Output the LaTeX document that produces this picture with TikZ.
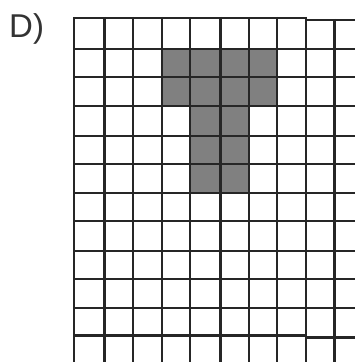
\documentclass[tikz,border=0pt]{standalone}
\usepackage{fontspec}
\setmainfont{Liberation Sans}
\begin{document}
\begin{tikzpicture}[x=1pt,y=-1pt,
  gridline/.style={draw=black!85,line width=2.3pt},
  fillcell/.style={fill=black!50}]
\useasboundingbox (0,0) rectangle (355,362);
% grey T cells
\fill[black!50] (162,49) rectangle (277,106);
\fill[black!50] (190,106) rectangle (249,193);
% horizontal lines
\foreach \y in {49,77,106,136,164,193,221,251,279,308}
  \draw[gridline] (74,\y) -- (360,\y);
\draw[gridline] (74,18) -- (306,18);
\draw[gridline] (306,20) -- (360,20);
\draw[gridline] (74,335.5) -- (306,335.5);
\draw[gridline] (306,337.5) -- (360,337.5);
% vertical lines
\foreach \x in {74,104.5,133,162,190,220.5,249,277,306}
  \draw[gridline] (\x,16.9) -- (\x,370);
\draw[gridline] (334.5,18.9) -- (334.5,370);
% label
\node[anchor=base west,inner sep=0pt,text=black!80,font=\fontsize{33}{35}\selectfont] (lab) at (9,37) {D)};
\end{tikzpicture}
\end{document}
